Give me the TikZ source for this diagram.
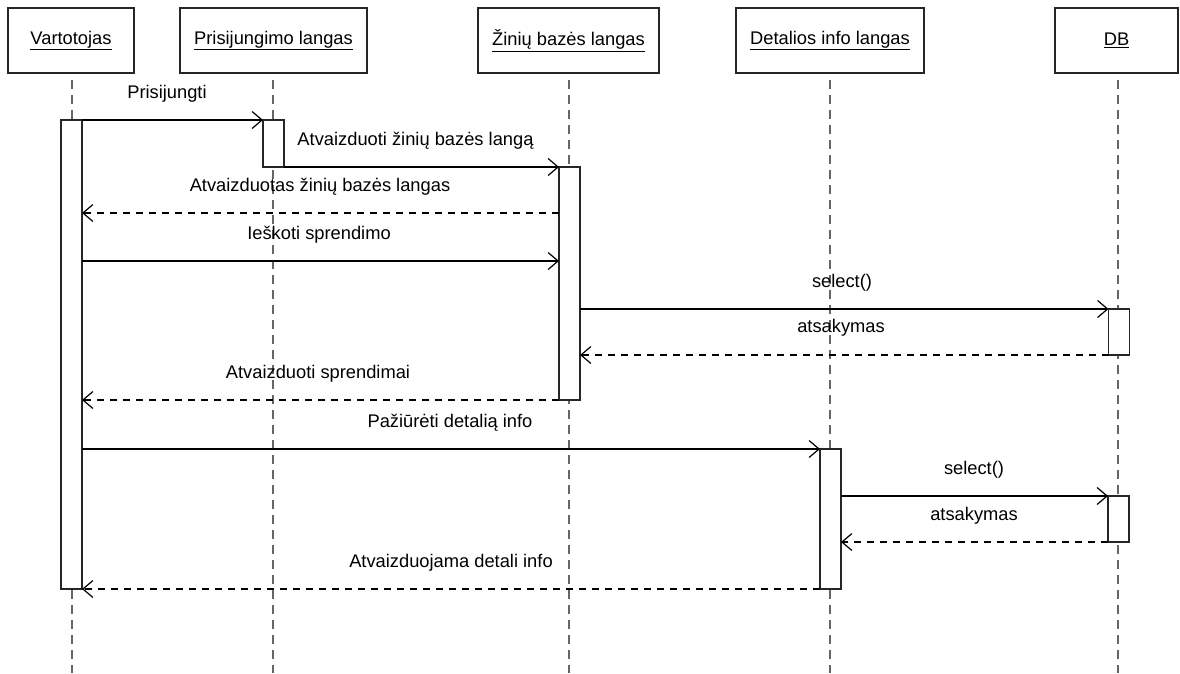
\documentclass[tikz,border=0pt]{standalone}
\usepackage{fontspec}
\setmainfont{Liberation Sans}
\usetikzlibrary{arrows.meta}
\begin{document}
\begin{tikzpicture}[x=1pt,y=-1pt,
  font=\fontsize{18.3}{21}\selectfont,
  obj/.style={draw=black!85,line width=1.2pt,minimum height=65pt,inner sep=0pt,outer sep=0pt,fill=white},
  life/.style={draw=black!60,line width=1.2pt,dash pattern=on 9pt off 6pt},
  act/.style={draw=black!85,line width=1.2pt,fill=white,minimum width=21pt,inner sep=0pt,outer sep=0pt,anchor=north},
  call/.style={line width=1.2pt,-{Straight Barb[length=10pt,width=17pt]}},
  reply/.style={call,dash pattern=on 7pt off 6pt},
  lbl/.style={anchor=base,inner sep=0pt}]
\useasboundingbox (0,0) rectangle (1180,673);

% object headers
\node[obj,minimum width=126pt] (vart) at (71,40.5) {\underline{Vartotojas}};
\node[obj,minimum width=187pt] (pris) at (273.5,40.5) {\underline{Prisijungimo langas}};
\node[obj,minimum width=181pt] (zin)  at (568.5,40.5) {\underline{Žinių bazės langas}};
\node[obj,minimum width=188pt] (det)  at (830,40.5) {\underline{Detalios info langas}};
\node[obj,minimum width=123pt] (db)   at (1116.5,40.5) {\underline{DB}};

% lifelines
\draw[life] (72,80) -- (72,673);
\draw[life] (273,80) -- (273,673);
\draw[life] (569,80) -- (569,673);
\draw[life] (830,80) -- (830,673);
\draw[life] (1118,80) -- (1118,673);

% activation bars
\node[act,minimum height=469pt] (vA)  at (71.5,120) {};
\node[act,minimum height=47pt]  (pA)  at (273.5,120) {};
\node[act,minimum height=233pt] (zA)  at (569.5,167) {};
\node[act,minimum height=46pt]  (dbA) at (1119,309) {};
\node[act,minimum height=140pt] (dA)  at (830.5,449) {};
\node[act,minimum height=46pt]  (dbB) at (1118.5,496) {};

\coordinate (y3) at (0,213);
\coordinate (y4) at (0,261);

% messages
\draw[call]  (vA.north east) -- (pA.north west);
\draw[call]  (pA.south east) -- (zA.north west);
\draw[reply] (zA.west |- y3) -- (vA.east |- y3);
\draw[call]  (vA.east |- y4) -- (zA.west |- y4);
\draw[call]  (zA.east |- dbA.north) -- (dbA.north west);
\draw[reply] (dbA.south west) -- (zA.east |- dbA.south);
\draw[reply] (zA.south west) -- (vA.east |- zA.south);
\draw[call]  (vA.east |- dA.north) -- (dA.north west);
\draw[call]  (dA.east |- dbB.north) -- (dbB.north west);
\draw[reply] (dbB.south west) -- (dA.east |- dbB.south);
\draw[reply] (dA.south west) -- (vA.south east);

% message labels
\node[lbl] (l1)  at (167,98)   {Prisijungti};
\node[lbl] (l2)  at (415.5,145) {Atvaizduoti žinių bazės langą};
\node[lbl] (l3)  at (320,191)  {Atvaizduotas žinių bazės langas};
\node[lbl] (l4)  at (319,239)  {Ieškoti sprendimo};
\node[lbl] (l5)  at (842,287)  {select()};
\node[lbl] (l6)  at (841,332)  {atsakymas};
\node[lbl] (l7)  at (318,378)  {Atvaizduoti sprendimai};
\node[lbl] (l8)  at (450,427)  {Pažiūrėti detalią info};
\node[lbl] (l9)  at (974,474)  {select()};
\node[lbl] (l10) at (974,520)  {atsakymas};
\node[lbl] (l11) at (451,567)  {Atvaizduojama detali info};
\end{tikzpicture}
\end{document}
